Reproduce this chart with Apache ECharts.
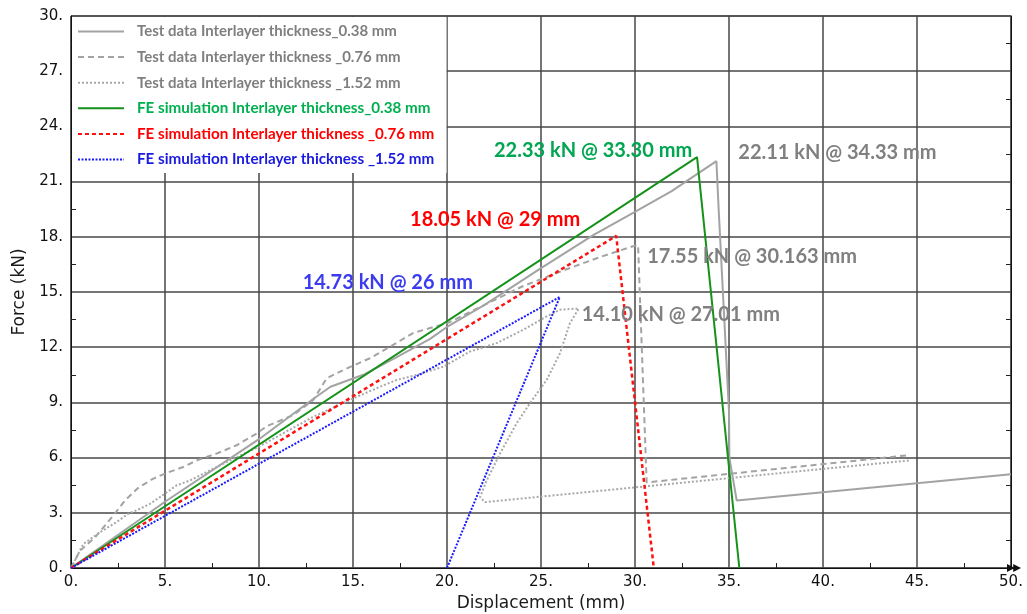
<!DOCTYPE html>
<html>
<head>
<meta charset="utf-8">
<script src="https://cdn.jsdelivr.net/npm/echarts@6/dist/echarts.min.js"></script>
<style>
  html, body { margin: 0; padding: 0; background: #ffffff; }
  #chart { width: 1027px; height: 614px; }
</style>
</head>
<body>
<div id="chart"></div>
<script>
// Force–displacement curves: test data vs. FE simulation for three interlayer thicknesses

const seriesNames = [
  'Test data Interlayer thickness_0.38 mm',
  'Test data Interlayer thickness _0.76 mm',
  'Test data Interlayer thickness _1.52 mm',
  'FE simulation Interlayer thickness_0.38 mm',
  'FE simulation Interlayer thickness _0.76 mm',
  'FE simulation Interlayer thickness _1.52 mm'
];

// Peak of each curve: displacement (mm) and force (kN)
const peakDisp = [34.33, 30.163, 27.01, 33.30, 29, 26];
const peakForce = [22.11, 17.55, 14.10, 22.33, 18.05, 14.73];
const peakDispDecimals = [2, 3, 2, 2, 0, 0];

// Test data, 0.38 mm: loading branch up to the peak, then the post-peak branch
const testThinRise = [[0, 0], [5, 3.6], [10, 7.0], [12.9, 9.2], [13.8, 9.85], [15.55, 10.5],
  [17.3, 11.45], [19.1, 12.45], [20, 13.1], [22, 14.3], [25, 16.3], [27.8, 18.1],
  [29.9, 19.3], [31.95, 20.48]];
const testThinFall = [[34.45, 19.5], [35.0, 8.5], [35.02, 6.0], [35.41, 3.67], [50, 5.1]];

// Test data, 0.76 mm
const testMidRise = [[0, 0], [0.48, 0.94], [1.28, 1.67], [2.25, 2.85], [2.87, 3.67], [3.58, 4.36],
  [4.38, 4.86], [5.0, 5.13], [5.97, 5.49], [6.69, 5.85], [7.75, 6.22], [8.81, 6.67],
  [9.88, 7.31], [10.4, 7.7], [11.82, 8.31], [12.89, 9.13], [13.6, 10.31], [14.49, 10.76],
  [15.9, 11.4], [16.97, 12.03], [18.2, 12.77], [19.1, 13.04], [20, 13.3], [22, 14.3],
  [24, 15.3], [26, 16.1], [28, 16.85], [29.9, 17.49]];
const testMidFall = [[30.62, 4.65], [44.55, 6.13]];

// Test data, 1.52 mm
const testThickRise = [[0, 0], [0.65, 1.3], [1.54, 1.94], [2.43, 2.5], [3.05, 2.95], [3.67, 3.22],
  [4.2, 3.49], [4.73, 3.85], [5.62, 4.49], [6.33, 4.76], [7.39, 5.31], [8.28, 5.76],
  [10, 6.6], [12.89, 8.22], [15.02, 9.22], [16.44, 9.85], [17.32, 10.22], [18.38, 10.49],
  [19.8, 10.94], [21.22, 11.76], [22.64, 12.22], [24.06, 12.95], [25.3, 13.67], [26.01, 14.04]];
const testThickFall = [[26.54, 13.31], [26.01, 11.67], [25.3, 10.22], [24.41, 8.95], [23.7, 7.86],
  [22.82, 6.22], [22.11, 4.76], [21.76, 3.85], [22.02, 3.58], [44.63, 5.85]];

// FE simulations: linear loading to the peak, then failure branch
const feThinRise = [[0, 0]];
const feThinFall = [[35.55, 0]];
const feMidRise = [[0, 0]];
const feMidFall = [[31.0, 0]];
const feThickRise = [[0, 0]];
const feThickFall = [[20, 0]];

const riseData = [testThinRise, testMidRise, testThickRise, feThinRise, feMidRise, feThickRise];
const fallData = [testThinFall, testMidFall, testThickFall, feThinFall, feMidFall, feThickFall];

// Axis ranges
const xMin = 0, xMax = 50, xStep = 5;
const yMin = 0, yMax = 30, yStep = 3;

const styles = [
  { color: '#a3a3a3', width: 2, type: 'solid', text: '#7f7f7f', textSize: 15, label: '#808080', offset: [121, -9] },
  { color: '#a3a3a3', width: 2, type: [6, 4], text: '#7f7f7f', textSize: 15, label: '#808080', offset: [114, 11] },
  { color: '#a8a8a8', width: 2, type: [2, 2], text: '#7f7f7f', textSize: 15, label: '#808080', offset: [102, 6] },
  { color: '#15921a', width: 2, type: 'solid', text: '#00b050', textSize: 15.2, label: '#00a651', offset: [-104, -7] },
  { color: '#ff1010', width: 2.5, type: [4, 3], text: '#ff0000', textSize: 15.2, label: '#ff0000', offset: [-121, -16] },
  { color: '#1a1aff', width: 2, type: [2, 1.5], text: '#1a1ae0', textSize: 15.2, label: '#3b3bf0', offset: [-172, -14] }
];

const labelFont = 'Lato, "Open Sans", sans-serif';
const axisFont = '"DejaVu Sans", Verdana, sans-serif';

const series = seriesNames.map((name, i) => {
  const peak = [peakDisp[i], peakForce[i]];
  const st = styles[i];
  return {
    name: name,
    type: 'line',
    data: riseData[i].concat([peak], fallData[i]),
    symbol: 'none',
    smooth: false,
    animation: false,
    lineStyle: { color: st.color, width: st.width, type: st.type },
    itemStyle: { color: st.color },
    z: i < 3 ? 2 : 3,
    markPoint: {
      symbol: 'circle',
      symbolSize: 0,
      silent: true,
      animation: false,
      data: [{ coord: peak }],
      label: {
        show: true,
        position: 'inside',
        offset: st.offset,
        color: st.label,
        fontFamily: labelFont,
        fontWeight: 'bold',
        fontSize: 20,
        formatter: () => peakForce[i].toFixed(2) + ' kN @ ' +
          peakDisp[i].toFixed(peakDispDecimals[i]) + ' mm'
      }
    }
  };
});

const chart = echarts.init(document.getElementById('chart'), null, { renderer: 'canvas' });

const gridLine = { show: true, lineStyle: { color: '#474747', width: 1.5 } };
const minor = { show: true, splitNumber: 2, length: 5, lineStyle: { color: '#222', width: 1 } };

chart.setOption({
  backgroundColor: '#ffffff',
  animation: false,
  grid: {
    left: 71, right: 16, top: 16, bottom: 46,
    outerBoundsMode: 'none',
    containLabel: false,
    show: true, borderColor: '#111', borderWidth: 1, backgroundColor: 'transparent'
  },
  // White panel behind the legend, hiding the grid lines there
  graphic: [{
    type: 'rect', z: 1, silent: true,
    shape: { x: 72, y: 17, width: 374.5, height: 156 },
    style: { fill: '#ffffff' }
  }],
  legend: {
    orient: 'vertical',
    left: 72, top: 18,
    itemWidth: 46, itemHeight: 14, itemGap: 8.6,
    z: 5,
    itemStyle: { opacity: 0 },
    textStyle: {
      fontFamily: labelFont, fontWeight: 'bold', fontSize: 15, lineHeight: 17,
      padding: [0, 0, 0, 8]
    },
    data: seriesNames.map((n, i) => ({
      name: n,
      textStyle: { color: styles[i].text, fontSize: styles[i].textSize }
    }))
  },
  xAxis: [{
    type: 'value', min: xMin, max: xMax, interval: xStep,
    name: 'Displacement (mm)', nameLocation: 'middle', nameGap: 24,
    nameTextStyle: { fontFamily: axisFont, fontSize: 17, color: '#1a1a1a' },
    axisLine: {
      show: true, onZero: false, lineStyle: { color: '#111', width: 1 },
      symbol: ['none', 'path://M0,10 L5,0 L10,10 Z M0,18 L5,8 L10,18 Z'],
      symbolSize: [9, 14], symbolOffset: [0, 3]
    },
    axisTick: { show: false, inside: true },
    minorTick: minor,
    splitLine: gridLine,
    axisLabel: {
      fontFamily: axisFont, fontSize: 15, color: '#111', margin: 7,
      formatter: v => v + '.'
    }
  }],
  yAxis: [{
    type: 'value', min: yMin, max: yMax, interval: yStep,
    name: 'Force (kN)', nameLocation: 'middle', nameGap: 30,
    nameTextStyle: { fontFamily: axisFont, fontSize: 17, color: '#1a1a1a' },
    axisLine: { show: true, onZero: false, lineStyle: { color: '#111', width: 1 } },
    axisTick: { show: false, inside: true },
    minorTick: minor,
    splitLine: gridLine,
    axisLabel: {
      fontFamily: axisFont, fontSize: 15, color: '#111', margin: 8,
      formatter: v => v + '.'
    }
  }, {
    type: 'value', min: yMin, max: yMax, interval: yStep, position: 'right',
    axisLine: { show: true, onZero: false, lineStyle: { color: '#111', width: 1 } },
    axisTick: { show: false, inside: true },
    minorTick: minor,
    splitLine: { show: false },
    axisLabel: { show: false }
  }],
  series: series
});
</script>
</body>
</html>
